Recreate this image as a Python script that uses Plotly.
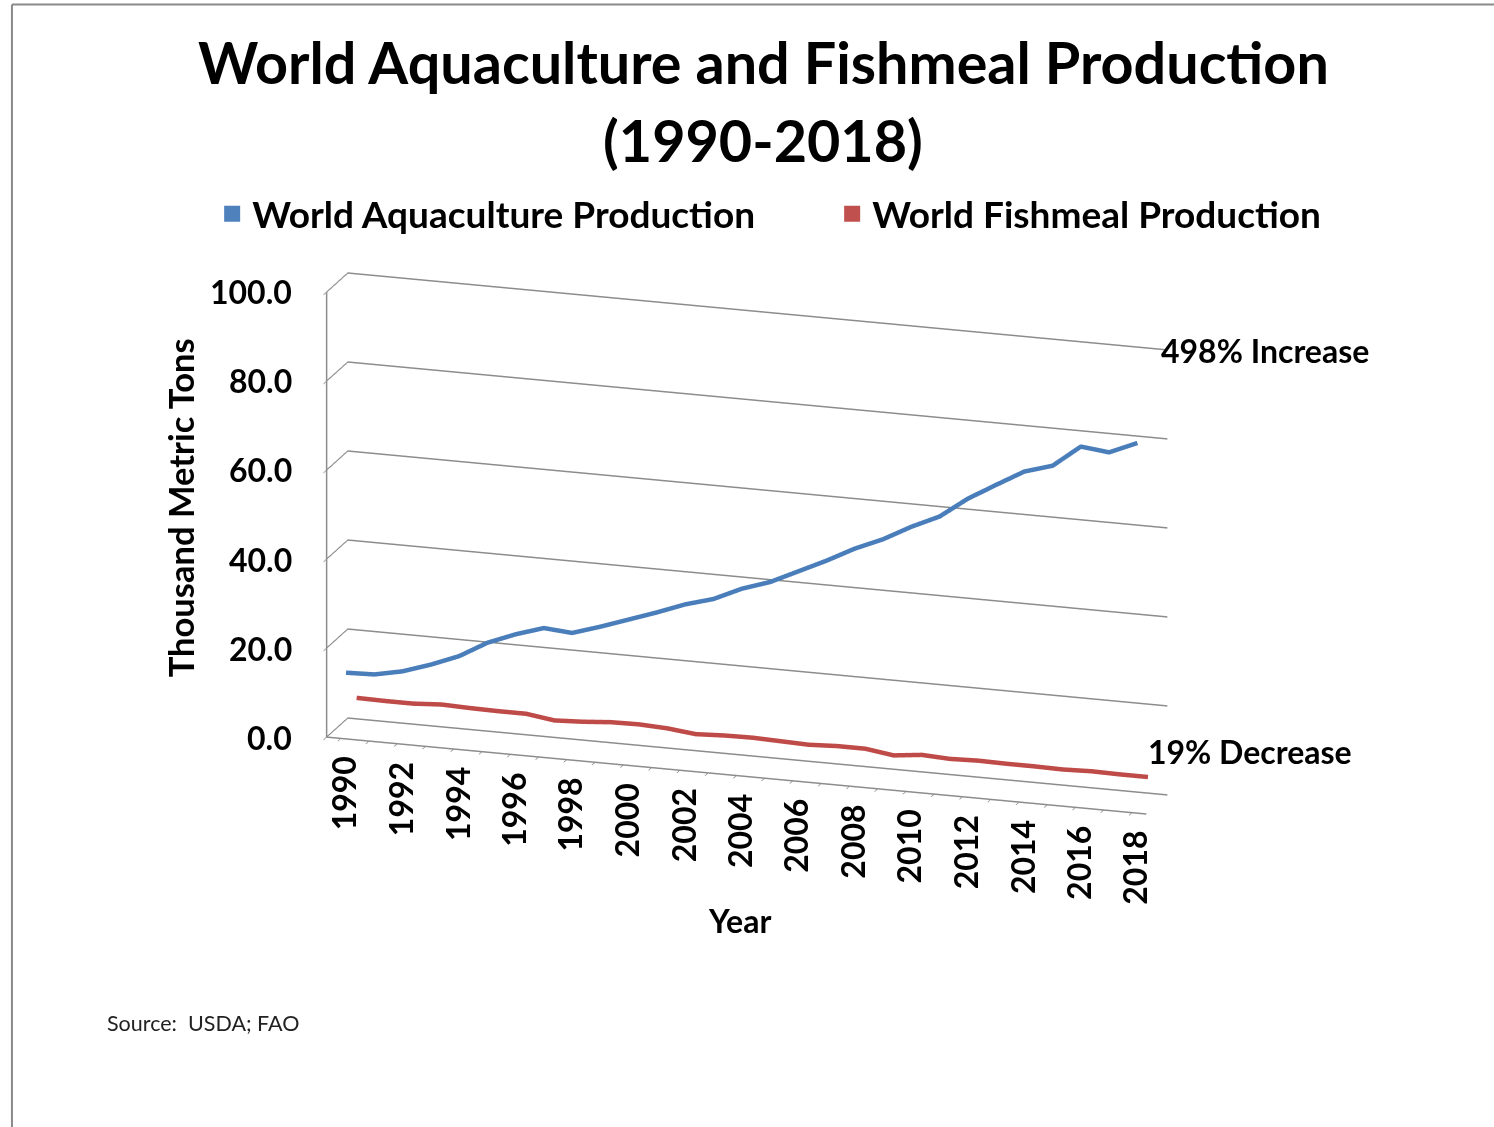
import plotly.graph_objects as go

years = list(range(1990, 2019))

# Million tonnes (axis labelled as in the source slide)
aquaculture = [13.7, 13.9, 15.2, 17.3, 19.8, 23.4, 25.9, 27.9, 27.4, 29.4,
               31.6, 33.8, 36.2, 38.0, 40.9, 43.0, 46.0, 49.0, 52.3, 55.0,
               58.4, 61.3, 65.9, 69.6, 73.2, 75.1, 80.0, 79.3, 82.0]
fishmeal = [5.9, 5.8, 5.8, 6.2, 6.0, 5.9, 5.9, 5.0, 5.3, 5.8,
            5.9, 5.6, 4.9, 5.2, 5.3, 5.1, 4.9, 5.2, 5.2, 4.3,
            5.0, 4.7, 4.9, 4.8, 4.8, 4.7, 4.9, 4.8, 4.8]

series_names = ["World Aquaculture Production", "World Fishmeal Production"]
line_colors = ["#4A7EBB", "#BE4B48"]
legend_colors = ["#4F81BD", "#C0504D"]
series_depth = [0.25, 0.75]

z_ticks = [0, 20, 40, 60, 80, 100]
label_years = [y for y in years if y % 2 == 0]

FONT = "Lato"
GRID = "#8C8C8C"
X_MIN, X_MAX = 1989.5, 2018.5


def bold(s):
    return "<b>" + s + "</b>"


fig = go.Figure()

for name, vals, col, d in zip(series_names, [aquaculture, fishmeal], line_colors, series_depth):
    fig.add_trace(go.Scatter3d(
        x=years, y=[d] * len(years), z=vals,
        mode="lines", line=dict(color=col, width=9),
        name=name, showlegend=False, hoverinfo="x+z"))

# square legend keys
for name, col in zip(series_names, legend_colors):
    fig.add_trace(go.Scatter(
        x=[None], y=[None], mode="markers", name=bold(name),
        marker=dict(symbol="square", size=20, color=col)))

tick_font = dict(family=FONT, size=32, color="black")

# value-axis labels, placed on the front-left edge of the box
scene_ann = [
    dict(x=X_MIN, y=0, z=v, text=bold(f"{v:.1f}"), showarrow=False,
         xanchor="right", yanchor="middle", xshift=-33, font=tick_font)
    for v in z_ticks
]
# year labels along the front floor edge
scene_ann += [
    dict(x=yr, y=0, z=0, text=bold(str(yr)), showarrow=False, textangle=-90,
         xanchor="center", yanchor="top", xshift=3, yshift=-16, font=tick_font)
    for yr in label_years
]

title_font = dict(family=FONT, size=57.5, color="black")
ann_font = dict(family=FONT, size=32, color="black")


def paper_text(text, x, y, font, **kw):
    d = dict(text=text, x=x, y=y, xref="paper", yref="paper", showarrow=False,
             xanchor="center", yanchor="middle", font=font)
    d.update(kw)
    return d


fig.update_layout(
    width=1494, height=1127,
    margin=dict(l=0, r=0, t=0, b=0),
    paper_bgcolor="white", plot_bgcolor="white",
    xaxis=dict(visible=False), yaxis=dict(visible=False),
    legend=dict(
        orientation="h", x=0.557, xanchor="center", y=0.810, yanchor="middle",
        font=dict(family=FONT, size=37, color="black"),
        itemsizing="trace", itemwidth=30, entrywidth=575,
        bgcolor="rgba(0,0,0,0)"),
    scene=dict(
        domain=dict(x=[0.13, 0.87], y=[0.1578, 0.8778]),
        aspectmode="manual",
        aspectratio=dict(x=2.124, y=0.17, z=1.147),
        camera=dict(
            eye=dict(x=0.682, y=-2.112, z=0.674),
            center=dict(x=0, y=0, z=0),
            up=dict(x=0, y=0, z=1),
            projection=dict(type="orthographic")),
        xaxis=dict(
            range=[X_MIN, X_MAX], tickvals=years,
            ticks="outside", ticklen=14, tickwidth=2, tickcolor=GRID,
            showticklabels=False,
            showgrid=False, showline=True, linecolor=GRID, linewidth=3,
            zeroline=False, showbackground=False, showspikes=False,
            title=dict(text="")),
        yaxis=dict(
            range=[0, 1], showgrid=False,
            showline=False, zeroline=False, showbackground=False,
            showspikes=False, showticklabels=False, ticks="",
            title=dict(text="")),
        zaxis=dict(
            range=[0, 100], tickvals=z_ticks,
            ticks="outside", ticklen=14, tickwidth=2, tickcolor=GRID,
            showticklabels=False,
            showgrid=True, gridcolor=GRID, gridwidth=3,
            showline=True, linecolor=GRID, linewidth=3,
            zeroline=False, showbackground=False, showspikes=False,
            title=dict(text="")),
        annotations=scene_ann,
        bgcolor="white"),
    annotations=[
        paper_text(bold("World Aquaculture and Fishmeal Production"), 0.511, 0.945, title_font),
        paper_text(bold("(1990-2018)"), 0.511, 0.876, title_font),
        paper_text(bold("Thousand Metric Tons"), 0.1205, 0.549,
                   dict(family=FONT, size=34.5, color="black"), textangle=-90),
        paper_text(bold("Year"), 0.4953, 0.1828, ann_font),
        paper_text(bold("498% Increase"), 0.8467, 0.6894, ann_font),
        paper_text(bold("19% Decrease"), 0.8367, 0.3336, ann_font),
        paper_text("Source:  USDA; FAO", 0.0703, 0.0923,
                   dict(family=FONT, size=21.5, color="#222222"), xanchor="left"),
    ],
    shapes=[
        dict(type="line", xref="paper", yref="paper", x0=0.008, x1=1, y0=0.996, y1=0.996,
             line=dict(color="#8A8A8A", width=2)),
        dict(type="line", xref="paper", yref="paper", x0=0.008, x1=0.008, y0=0, y1=0.996,
             line=dict(color="#8A8A8A", width=2)),
    ],
)

fig.write_html("out.html")
